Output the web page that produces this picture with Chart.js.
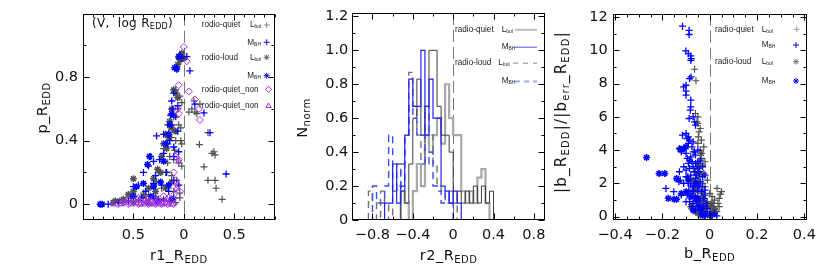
<!DOCTYPE html>
<html>
<head>
<meta charset="utf-8">
<script src="https://cdn.jsdelivr.net/npm/chart.js@4.4.0/dist/chart.umd.min.js"></script>
<style>
body{margin:0;background:#fff;width:830px;height:276px;position:relative;overflow:hidden}
.pane{position:absolute;top:0;height:276px;width:280px}
</style>
</head>
<body>
<div class="pane" style="left:0px"><canvas id="c1"></canvas></div>
<div class="pane" style="left:280px"><canvas id="c2"></canvas></div>
<div class="pane" style="left:550px"><canvas id="c3"></canvas></div>
<script>
// ---- panel 1 : p_R_EDD vs r1_R_EDD ----
var p1RqLbol = [[0.05,0.58],[0.08,0.6],[0.11,0.58],[0.1,0.65],[0.16,0.63],[0.13,0.57],[0.155,0.375],[0.2,0.235],[0.24,0.15],[0.31,0.15],[0.32,0.1],[0.38,0.03],[0.3,0.33],[0.31,0.31],[0.24,0.45],[0.28,0.32],
  [-0.05,0.92],[-0.03,0.9],[-0.08,0.72],[-0.04,0.68],[-0.02,0.64],[-0.06,0.6],[-0.1,0.55],[-0.05,0.5],[-0.03,0.48],[-0.15,0.45],[-0.12,0.42],[-0.08,0.4],[-0.03,0.4],[-0.02,0.38],[-0.2,0.35],[-0.14,0.3],[-0.1,0.28],[-0.05,0.26],[-0.02,0.24],[-0.25,0.2],[-0.18,0.2],[-0.12,0.18],[-0.07,0.15],[-0.3,0.12],[-0.22,0.1],[-0.15,0.1],[-0.1,0.08],[-0.04,0.07],[-0.35,0.06],[-0.28,0.04],[-0.2,0.03],[-0.45,0.02],[-0.12,0.02],[-0.6,0.01],[-0.08,0.01],[-0.04,0.04],
  [-0.16,0.5],[-0.11,0.47],[-0.09,0.34],[-0.16,0.26],[-0.27,0.14],[-0.4,0.07],[-0.53,0.04],[-0.64,0.02]]
var p1RqMbh = [[0.06,0.84],[0.03,0.93],[0.2,0.575],[0.26,0.45],[0.42,0.19],[0.11,0.63],
  [-0.04,0.94],[-0.02,0.92],[-0.07,0.86],[-0.1,0.7],[-0.12,0.65],[-0.11,0.6],[-0.13,0.56],[-0.06,0.62],[-0.08,0.55],[-0.12,0.5],[-0.06,0.46],[-0.2,0.44],[-0.27,0.43],[-0.14,0.4],[-0.16,0.38],[-0.1,0.36],[-0.2,0.32],[-0.3,0.27],[-0.33,0.3],[-0.24,0.28],[-0.1,0.3],[-0.05,0.33],[-0.35,0.24],[-0.4,0.2],[-0.28,0.18],[-0.17,0.2],[-0.1,0.15],[-0.05,0.12],[-0.45,0.12],[-0.5,0.11],[-0.3,0.13],[-0.22,0.12],[-0.15,0.08],[-0.38,0.08],[-0.42,0.04],[-0.3,0.05],[-0.25,0.03],[-0.65,0.01],[-0.75,0.0],[-0.55,0.02],[-0.2,0.02],[-0.1,0.04]]
var p1RlLbol = [[-0.02,0.95],[-0.04,0.91],[-0.06,0.88],[0.0,0.92],[-0.1,0.72],[-0.08,0.7],[-0.06,0.67],[-0.12,0.6],[-0.1,0.56],[-0.14,0.52],[-0.12,0.48],[-0.18,0.44],[-0.15,0.42],[-0.08,0.46],[-0.2,0.38],[-0.17,0.35],[-0.22,0.3],[-0.26,0.22],[-0.23,0.2],[-0.3,0.16],[-0.5,0.16],[-0.35,0.1],[-0.28,0.08],[-0.5,0.08],[-0.55,0.06],[-0.4,0.05],[-0.6,0.03],[-0.68,0.02],[-0.7,0.01],[-0.5,0.01],[-0.35,0.01],[-0.25,0.02],[-0.18,0.1],[-0.12,0.14]]
var p1RlMbh = [[-0.83,0.0],[-0.81,0.0],[-0.05,0.93],[-0.09,0.86],[-0.07,0.85],[-0.12,0.57],[-0.14,0.5],[-0.15,0.44],[-0.18,0.38],[-0.34,0.3],[-0.36,0.25],[-0.2,0.27],[-0.47,0.11],[-0.4,0.13],[-0.3,0.11],[-0.23,0.14],[-0.15,0.12],[-0.5,0.05],[-0.33,0.05],[-0.27,0.02],[-0.12,0.03]]
var p1RqNonA = [[0.0,0.99],[0.03,0.9],[0.05,0.71],[0.11,0.66],[0.15,0.6],[0.16,0.53],
  [-0.05,0.75],[-0.06,0.6],[-0.05,0.57],[-0.08,0.3],[-0.05,0.28],[-0.1,0.2],[-0.08,0.15],[-0.06,0.12],[-0.04,0.08],[-0.1,0.06],[-0.15,0.04],
  [-0.65,0.0],[-0.6,0.01],[-0.55,0.0],[-0.5,0.02],[-0.45,0.0],[-0.42,0.01],[-0.38,0.02],[-0.35,0.0],[-0.32,0.01],[-0.28,0.0],[-0.25,0.02],[-0.22,0.0],[-0.19,0.01],[-0.16,0.0],[-0.13,0.02],[-0.1,0.0],[-0.3,0.04],[-0.2,0.05]]
var p1RqNonB = [[-0.7,0.0],[-0.62,0.0],[-0.58,0.01],[-0.52,0.0],[-0.47,0.01],[-0.43,0.0],[-0.4,0.0],[-0.37,0.01],[-0.33,0.0],[-0.3,0.0],[-0.27,0.01],[-0.24,0.0],[-0.21,0.0],[-0.18,0.01],[-0.15,0.0],[-0.12,0.0],[-0.36,0.03],[-0.26,0.03],[-0.17,0.03],[-0.45,0.04],[-0.55,0.03],[-0.05,0.27],[-0.07,0.1]]
var p1XTicks = [-0.5, 0, 0.5]
var p1YTicks = [0, 0.4, 0.8]

// ---- panel 2 : N_norm histograms of r2_R_EDD ----
var r2Edges = [-0.84,-0.80,-0.76,-0.72,-0.68,-0.64,-0.60,-0.56,-0.52,-0.48,-0.44,-0.40,-0.36,-0.32,-0.28,-0.24,-0.20,-0.16,-0.12,-0.08,-0.04,0.00,0.04,0.08,0.12,0.16,0.20,0.24,0.28,0.32,0.36,0.40,0.44]
var hRqLbol = [0,0,0,0,0,0,0,0,0.17,0.1,0,0.17,0.33,0.2,0.5,0.4,0.5,0.6,0.45,0.8,0.6,0.5,0.5,0.17,0.1,0.17,0.1,0.25,0.3,0.1,0,0]
var hRqAll  = [0,0,0,0,0,0,0,0,0.17,0.1,0.33,0.6,0.83,0.5,0.67,1.0,1.0,0.67,0.5,0.5,0.4,0.1,0.17,0.1,0.17,0.1,0.2,0.1,0.2,0.1,0.17,0]
var hRqMbh  = [0,0,0,0,0.1,0.1,0.33,0.1,0.2,0.5,0.83,0.67,0.67,1.0,0.5,0.83,0.6,0.6,0.2,0.17,0.1,0.17,0.1,0,0,0,0,0,0,0,0,0]
var hRlLbol = [0.17,0.1,0,0.17,0.1,0,0.17,0.2,0.33,0.5,0.87,0.67,0.5,0.33,0.67,0.5,0.33,0.2,0.17,0.1,0.17,0.17,0,0,0,0,0,0,0,0,0,0]
var hRlMbh  = [0,0.2,0.1,0.1,0.2,0.5,0.17,0.33,0.17,0.5,0.67,0.6,0.5,0.5,0.33,0.4,0.2,0.17,0.1,0.17,0.1,0,0,0,0,0,0,0,0,0,0,0]
var p2XTicks = [-0.8, -0.4, 0, 0.4, 0.8]
var p2YTicks = [0, 0.2, 0.4, 0.6, 0.8, 1.0, 1.2]

// ---- panel 3 : |b|/|b_err| vs b_R_EDD ----
var p3RqMbh = [[-0.115,11.45],[-0.087,11.2],[-0.087,10.95],[-0.101,9.96],[-0.09,9.8],[-0.08,9.66],[-0.078,9.5],[-0.08,9.4],[-0.079,8.4],[-0.085,8.3],[-0.1,7.9],[-0.11,7.8],[-0.1,7.55],[-0.1,7.3],[-0.08,7.0],[-0.08,6.6],[-0.082,6.4],[-0.087,5.9],[-0.07,6.0],[-0.064,5.7],[-0.06,5.5],[-0.115,4.9],[-0.1,5.0],[-0.096,4.7],[-0.09,4.8],[-0.084,4.6],[-0.07,4.5],[-0.128,4.1],[-0.12,3.9],[-0.1,3.8],[-0.08,3.6],[-0.06,3.7],[-0.05,4.0],[-0.04,3.4],[-0.09,3.2],[-0.07,3.0],[-0.05,2.9],[-0.03,3.0],[-0.1,2.8],[-0.128,2.7],[-0.124,2.2],[-0.08,2.5],[-0.06,2.3],[-0.04,2.1],[-0.02,2.5],[-0.09,2.0],[-0.07,1.8],[-0.05,1.6],[-0.03,1.8],[-0.185,1.7],[-0.152,1.5],[-0.08,1.4],[-0.06,1.2],[-0.04,1.0],[-0.02,1.3],[-0.1,0.9],[-0.12,1.3],[-0.07,0.8],[-0.05,0.6],[-0.03,0.5],[-0.01,0.3],[0.0,0.15],[0.03,0.05],[0.02,0.2],[-0.02,0.1],[-0.04,0.35],[-0.075,0.6],[-0.088,1.6],[-0.093,2.4],[-0.085,3.4],[-0.11,3.0],[-0.12,4.0],[-0.13,2.1],
  [-0.095,3.5],[-0.075,3.3],[-0.065,2.7],[-0.055,2.5],[-0.045,1.9],[-0.035,1.5],[-0.025,1.1],[-0.015,0.8],[-0.085,2.9],[-0.08,1.9],[-0.07,1.5],[-0.065,1.1],[-0.055,0.9],[-0.045,0.7],[-0.035,0.2],[-0.025,0.6],[-0.01,0.5],[0.01,0.1],[-0.06,3.2],[-0.09,4.4],[-0.075,4.2],[-0.065,3.9],[-0.05,3.3],[-0.045,2.7],[-0.055,2.0],[-0.03,2.4],[-0.02,1.6],[-0.1,2.4],[-0.11,2.0],[-0.095,1.3],[-0.085,0.9],[-0.06,0.4],[-0.02,0.0],[0.01,0.05]]
var p3RlMbh = [[-0.267,3.55],[-0.214,2.6],[-0.19,2.6],[-0.14,2.3],[-0.175,1.1],[-0.15,1.05],[-0.14,1.05],[-0.12,1.4],[-0.125,4.05],[-0.11,4.1],[-0.1,4.2],[-0.06,2.0],[-0.05,1.1],[-0.07,0.4],[-0.03,0.1],[-0.04,0.5],[-0.09,2.2],[-0.1,1.5],[-0.08,1.2]]
var p3RqLbol = [[-0.064,8.86],[-0.058,8.17],[-0.054,5.7],[-0.05,5.6],[-0.045,5.1],[-0.048,4.8],[-0.05,4.4],[-0.04,4.0],[-0.035,3.5],[-0.04,3.2],[-0.03,3.1],[-0.025,2.6],[-0.045,2.4],[-0.03,2.0],[-0.02,1.8],[0.031,1.7],[0.045,1.35],[0.04,1.1],[0.02,1.0],[0.035,0.8],[0.015,0.6],[0.0,0.5],[-0.01,0.9],[-0.03,1.2],[-0.05,1.5],[-0.06,1.0],[-0.055,0.7],[-0.04,0.3],[-0.02,0.2],[0.005,0.1],[-0.07,3.9],[-0.055,3.0],[-0.06,2.7],[0.025,0.4],[-0.015,0.45],
  [-0.06,6.2],[-0.05,6.0],[-0.04,5.3],[-0.035,4.6],[-0.025,4.2],[-0.02,3.3],[-0.01,2.2],[0.0,1.4],[0.01,1.2],[0.05,1.5],[0.04,0.6],[0.03,0.3],[-0.03,0.7],[-0.05,2.2],[-0.06,1.8]]
var p3RlLbol = [[-0.07,0.4],[-0.06,0.3],[-0.05,0.2],[-0.04,0.1],[-0.03,0.05],[-0.02,0.3],[-0.01,0.15],[0.0,0.05],[0.01,0.3],[0.02,0.5],[-0.045,0.6],[-0.03,0.8],[-0.06,1.2],[-0.05,1.8],[-0.04,2.6],[-0.035,3.8],[-0.03,1.4],[-0.015,0.7],[0.01,0.8],[-0.07,2.2],
  [-0.08,0.6],[-0.055,0.9],[-0.025,1.0],[0.005,0.6],[0.02,0.15],[-0.065,1.6],[-0.045,3.0]]
var p3XTicks = [-0.4, -0.2, 0, 0.2, 0.4]
var p3YTicks = [0, 2, 4, 6, 8, 10, 12]

var FONT = '"DejaVu Sans", sans-serif'
var LFONT = '"Liberation Sans", Arial, sans-serif'
var GRAY = '#505050'
var BLUE = '#0000ff'
var PURPLE = '#a030e0'

function pts(arr){
  return arr.map(function(p){ return {x:p[0], y:p[1]} })
}

function steps(edges, h){
  var out = [{x:edges[0], y:0}]
  for (var i = 0; i < h.length; i++){
    out.push({x:edges[i], y:h[i]})
  }
  out.push({x:edges[h.length], y:h[h.length-1]})
  out.push({x:edges[h.length], y:0})
  return out
}

function minus(v){
  var s = (Math.round(Math.abs(v)*10)/10).toString()
  return v < 0 ? '\u2212' + s : s
}

// text with sub/superscript pieces: [text, size, dy]
function rich(ctx, parts, x, y, align, rot, font, color, spacing){
  ctx.save()
  ctx.translate(x, y)
  if (rot) ctx.rotate(-Math.PI/2)
  if (spacing && 'letterSpacing' in ctx) ctx.letterSpacing = spacing
  var w = 0
  parts.forEach(function(p){ ctx.font = p[1] + 'px ' + font; w += ctx.measureText(p[0]).width })
  var cx = align == 'center' ? -w/2 : (align == 'right' ? -w : 0)
  ctx.textBaseline = 'middle'
  ctx.fillStyle = color || '#000'
  parts.forEach(function(p){
    ctx.font = p[1] + 'px ' + font
    ctx.fillText(p[0], cx, p[2] || 0)
    cx += ctx.measureText(p[0]).width
  })
  ctx.restore()
}

var idlPlugin = {
  id: 'idl',
  beforeDatasetsDraw: function(chart){
    var ctx = chart.ctx, a = chart.chartArea
    var x0 = Math.round(chart.scales.x.getPixelForValue(0)) + 0.5
    ctx.save()
    ctx.strokeStyle = '#777'
    ctx.lineWidth = 1
    ctx.setLineDash([12, 5])
    ctx.beginPath()
    ctx.moveTo(x0, a.top)
    ctx.lineTo(x0, a.bottom)
    ctx.stroke()
    ctx.restore()
  },
  afterDraw: function(chart, args, o){
    var ctx = chart.ctx, a = chart.chartArea
    var sx = chart.scales.x, sy = chart.scales.y
    ctx.save()
    ctx.strokeStyle = '#000'
    ctx.lineWidth = 1
    var L = Math.round(a.left) + 0.5, R = Math.round(a.right) - 0.5
    var T = Math.round(a.top) + 0.5, B = Math.round(a.bottom) - 0.5
    ctx.strokeRect(L, T, R - L, B - T)
    ctx.beginPath()
    var v, p, len
    for (v = Math.ceil(sx.min / o.xMinor) * o.xMinor; v <= sx.max + 1e-9; v += o.xMinor){
      p = Math.round(sx.getPixelForValue(v)) + 0.5
      len = o.xMajor.some(function(m){ return Math.abs(m - v) < 1e-6 }) ? 6 : 3
      ctx.moveTo(p, B); ctx.lineTo(p, B - len)
      ctx.moveTo(p, T); ctx.lineTo(p, T + len)
    }
    for (v = Math.ceil(sy.min / o.yMinor) * o.yMinor; v <= sy.max + 1e-9; v += o.yMinor){
      p = Math.round(sy.getPixelForValue(v)) + 0.5
      len = o.yMajor.some(function(m){ return Math.abs(m - v) < 1e-6 }) ? 6 : 3
      ctx.moveTo(L, p); ctx.lineTo(L + len, p)
      ctx.moveTo(R, p); ctx.lineTo(R - len, p)
    }
    ctx.stroke()
    ctx.restore()
    // axis titles
    rich(ctx, o.xTitle, (a.left + a.right)/2, o.xTitleY, 'center', false, FONT, '#111', '0.5px')
    rich(ctx, o.yTitle, o.yTitleX, o.yTitleY, 'center', true, FONT, '#111', o.ySpacing || '0.5px')
    if (o.note) rich(ctx, o.note.parts, o.note.x, o.note.y, 'left', false, FONT, '#111', '0.3px')
    // legend rows
    o.legend.forEach(function(r){
      if (r.text) rich(ctx, [[r.text, 8.2]], r.tx, r.y, 'left', false, LFONT, '#222')
      rich(ctx, [[r.sym, 8.2], [r.sub, 5, 2]], r.sx, r.y, 'left', false, LFONT, '#222')
      ctx.save()
      if (r.point){
        ctx.strokeStyle = r.color
        ctx.fillStyle = 'rgba(0,0,0,0)'
        ctx.lineWidth = 1
        Chart.helpers.drawPoint(ctx, {pointStyle: r.point, radius: 3, rotation: 0, borderWidth: 1}, r.px, r.y)
      } else {
        ctx.strokeStyle = r.color
        ctx.lineWidth = r.width
        ctx.setLineDash(r.dash || [])
        ctx.beginPath()
        ctx.moveTo(r.px, r.y + 0.5)
        ctx.lineTo(r.px2, r.y + 0.5)
        ctx.stroke()
      }
      ctx.restore()
    })
  }
}

function scatterSet(data, style, color, width){
  return {type:'scatter', data: pts(data), showLine:false, pointStyle: style, pointRadius: 3.5,
    borderColor: color, backgroundColor: 'rgba(0,0,0,0)', pointBorderWidth: width || 1.2}
}

function histSet(h, color, width, dash){
  return {type:'line', data: steps(r2Edges, h), stepped:'before', borderColor: color, borderWidth: width,
    borderDash: dash || [], pointRadius: 0, fill:false, tension:0}
}

function makeOptions(c){
  return {
    responsive: true, maintainAspectRatio: false, animation: false, events: [],
    layout: {padding: {left: 0, right: c.padRight, top: 13, bottom: 0}},
    plugins: {legend: {display: false}, tooltip: {enabled: false}, idl: c.idl},
    scales: {
      x: {type: 'linear', min: c.xMin, max: c.xMax,
        afterFit: function(s){ s.height = 56 },
        afterBuildTicks: function(s){ s.ticks = c.xTicks.map(function(v){ return {value: v} }) },
        ticks: {autoSkip: false, maxRotation: 0, padding: 7, color: '#111', font: {family: FONT, size: 14.5}, callback: c.xFmt},
        grid: {display: false, drawTicks: false}, border: {display: false}},
      y: {type: 'linear', min: c.yMin, max: c.yMax,
        afterFit: function(s){ s.width = c.yWidth },
        afterBuildTicks: function(s){ s.ticks = c.yTicks.map(function(v){ return {value: v} }) },
        ticks: {autoSkip: false, padding: c.yPad, color: '#111', font: {family: FONT, size: 14.5}, callback: c.yFmt},
        grid: {display: false, drawTicks: false}, border: {display: false}}
    }
  }
}

var EDD = ['EDD', 10, 4]

// panel 1
new Chart(document.getElementById('c1'), {
  type: 'scatter',
  data: {datasets: [
    scatterSet(p1RqNonB, 'triangle', PURPLE, 1),
    scatterSet(p1RqNonA, 'rectRot', PURPLE, 1),
    scatterSet(p1RlMbh, 'star', BLUE, 1.5),
    scatterSet(p1RqMbh, 'cross', BLUE, 1.3),
    scatterSet(p1RlLbol, 'star', GRAY, 1.5),
    scatterSet(p1RqLbol, 'cross', GRAY, 1.2)
  ]},
  options: makeOptions({
    padRight: 3, yWidth: 83, yPad: 5,
    xMin: -1, xMax: 0.9, yMin: -0.1, yMax: 1.2,
    xTicks: p1XTicks, yTicks: p1YTicks,
    xFmt: function(v){ return (Math.round(Math.abs(v)*10)/10).toString() },
    yFmt: function(v){ return v == 0 ? '0' : v.toFixed(1) },
    idl: {
      xMajor: p1XTicks, xMinor: 0.1, yMajor: p1YTicks, yMinor: 0.2,
      xTitle: [['r1_R', 14.5], EDD], xTitleY: 256,
      yTitle: [['p_R', 14.5], EDD], yTitleX: 43, yTitleY: 108,
      note: {parts: [['(V,  log R', 12], ['EDD', 8, 3], [')', 12]], x: 92, y: 24},
      legend: [
        {text: 'rodio-quiet', tx: 201.7, sym: 'L', sub: 'bol', sx: 250, y: 25, point: 'cross', color: '#888', px: 266.7},
        {sym: 'M', sub: 'BH', sx: 247.3, y: 42.3, point: 'cross', color: BLUE, px: 266.7},
        {text: 'rodio-loud', tx: 201.7, sym: 'L', sub: 'bol', sx: 250, y: 57.3, point: 'star', color: '#666', px: 266.7},
        {sym: 'M', sub: 'BH', sx: 247.3, y: 75.7, point: 'star', color: BLUE, px: 266.7},
        {text: 'rodio-quiet_non', tx: 201.7, sym: '', sub: '', sx: 264, y: 89.3, point: 'rectRot', color: PURPLE, px: 268.5},
        {text: 'rodio-quiet_non', tx: 201.7, sym: '', sub: '', sx: 264, y: 106, point: 'triangle', color: PURPLE, px: 268.5}
      ]
    }
  }),
  plugins: [idlPlugin]
})

// panel 2 (canvas starts at page x 280)
new Chart(document.getElementById('c2'), {
  type: 'line',
  data: {datasets: [
    histSet(hRqMbh, '#2020ff', 1.2),
    histSet(hRlMbh, '#3a4cff', 1.4, [7, 5]),
    histSet(hRqAll, '#3c3c3c', 1),
    histSet(hRlLbol, '#707070', 1.4, [7, 5]),
    histSet(hRqLbol, '#a8a8a8', 2.2)
  ]},
  options: makeOptions({
    padRight: 15, yWidth: 72.3, yPad: 4,
    xMin: -1, xMax: 0.91, yMin: 0, yMax: 1.22,
    xTicks: p2XTicks, yTicks: p2YTicks,
    xFmt: minus,
    yFmt: function(v){ return v == 0 ? '0' : v.toFixed(1) },
    idl: {
      xMajor: p2XTicks, xMinor: 0.2, yMajor: p2YTicks, yMinor: 0.1,
      xTitle: [['r2_R', 14.5], EDD], xTitleY: 256,
      yTitle: [['N', 14.5], ['norm', 10, 4]], yTitleX: 23, yTitleY: 118,
      legend: [
        {text: 'radio-quiet', tx: 175, sym: 'L', sub: 'bol', sx: 221.7, y: 29.3, color: '#bbb', width: 2, px: 235, px2: 257},
        {sym: 'M', sub: 'BH', sx: 221.7, y: 46.7, color: '#5050ff', width: 1, px: 235, px2: 257},
        {text: 'radio-loud', tx: 175, sym: 'L', sub: 'bol', sx: 218.3, y: 62.7, color: '#888', width: 1, dash: [5, 5], px: 233, px2: 257},
        {sym: 'M', sub: 'BH', sx: 221.7, y: 81, color: '#a0a8ff', width: 2, dash: [5, 4], px: 235, px2: 257}
      ]
    }
  }),
  plugins: [idlPlugin]
})

// panel 3 (canvas starts at page x 550)
new Chart(document.getElementById('c3'), {
  type: 'scatter',
  data: {datasets: [
    scatterSet(p3RlMbh, 'star', BLUE, 1.5),
    scatterSet(p3RqMbh, 'cross', BLUE, 1.3),
    scatterSet(p3RlLbol, 'star', GRAY, 1.3),
    scatterSet(p3RqLbol, 'cross', GRAY, 1.2)
  ]},
  options: makeOptions({
    padRight: 23.3, yWidth: 62.7, yPad: 5,
    xMin: -0.41, xMax: 0.41, yMin: -0.2, yMax: 12.2,
    xTicks: p3XTicks, yTicks: p3YTicks,
    xFmt: minus,
    yFmt: function(v){ return v.toString() },
    idl: {
      xMajor: p3XTicks, xMinor: 0.05, yMajor: p3YTicks, yMinor: 1,
      xTitle: [['b_R', 14.5], EDD], xTitleY: 254,
      yTitle: [['|b_R', 15], EDD, ['|/|b', 15], ['err', 10, 4], ['_R', 15], EDD, ['|', 15]], yTitleX: 12, yTitleY: 112, ySpacing: '1.2px',
      legend: [
        {text: 'radio-quiet', tx: 165, sym: 'L', sub: 'bol', sx: 211.7, y: 29.3, point: 'cross', color: '#999', px: 246.7},
        {sym: 'M', sub: 'BH', sx: 211.7, y: 45, point: 'cross', color: BLUE, px: 246},
        {text: 'radio-loud', tx: 165, sym: 'L', sub: 'bol', sx: 211.7, y: 61.7, point: 'star', color: '#777', px: 246},
        {sym: 'M', sub: 'BH', sx: 211.7, y: 81, point: 'star', color: BLUE, px: 246}
      ]
    }
  }),
  plugins: [idlPlugin]
})
</script>
</body>
</html>
